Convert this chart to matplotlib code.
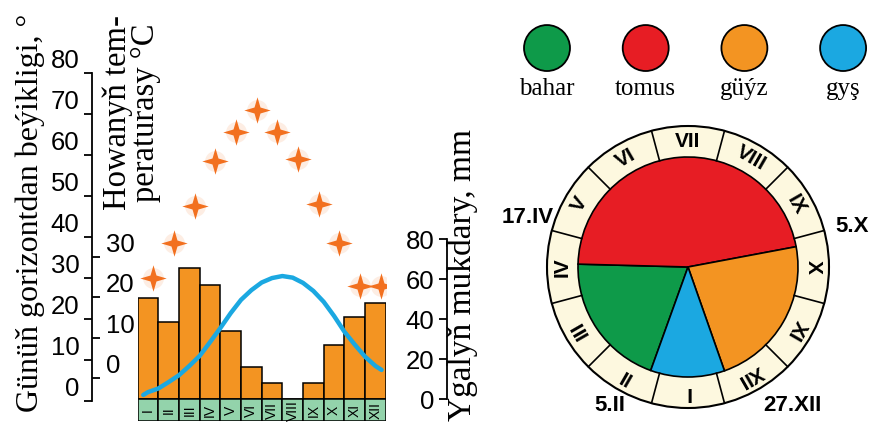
import numpy as np
import matplotlib
matplotlib.use('Agg')
import matplotlib.pyplot as plt
from matplotlib.path import Path
from matplotlib.patches import Wedge, Circle

# figure size in pixels
W, H = 881, 425

# climate data
months = ['I', 'II', 'III', 'IV', 'V', 'VI', 'VII', 'VIII', 'IX', 'X', 'XI', 'XII']
precip_mm = [50.5, 38.5, 65.5, 57, 34, 16, 8, 0, 8, 27, 41, 48]
sun_height = [30, 38.5, 47.5, 58.5, 65.5, 71, 65.5, 59, 48, 38.5, 28, 28]
temp_month = [-0.23, 0, 0.5, 1, 1.5, 2, 2.5, 3, 3.5, 4, 4.5, 5, 5.5, 6, 6.5,
              7, 7.5, 8, 8.5, 9, 9.5, 10, 10.5, 11, 11.3]
temp_c = [-4.2, -3.5, -2.6, -1.0, 0.7, 3.0, 5.5, 8.9, 12.4, 16.1, 19.4, 21.8,
          23.7, 24.8, 25.3, 24.9, 23.6, 21.6, 18.9, 15.4, 11.5, 8.3, 5.3, 3.0, 2.0]

# seasons
seasons = ['bahar', 'tomus', 'güýz', 'gyş']
season_colors = ['#0e9a49', '#e71d24', '#f39422', '#1ba8e1']
season_start = [(5, 2), (17, 4), (5, 10), (27, 12)]  # (day, month)
season_labels = ['5.II', '17.IV', '5.X', '27.XII']
days_in_month = [31, 28, 31, 30, 31, 30, 31, 31, 30, 31, 30, 31]

serif = ['Liberation Serif', 'DejaVu Serif']
sans = ['Liberation Sans', 'DejaVu Sans']
orange = '#f39422'
star_col = '#f2701f'
strip_col = '#93d3ab'
cream = '#fdf8df'


def box(x0, x1, y_top, y_bot):
    # pixel box -> figure fraction
    return [x0 / W, 1 - y_bot / H, max(x1 - x0, 0.01) / W, (y_bot - y_top) / H]


def ylim_for(zero_px, px_per_unit, top=40, bot=421):
    return (zero_px - bot) / px_per_unit, (zero_px - top) / px_per_unit


fig = plt.figure(figsize=(W / 100, H / 100), dpi=100)
fig.patch.set_facecolor('white')

x = np.arange(len(months))
data_box = box(137.7, 385.7, 40, 421)

# precipitation bars + month strip
ax_bar = fig.add_axes(data_box)
lo, hi = ylim_for(399.3, 2.0)
ax_bar.set_ylim(lo, hi)
ax_bar.set_xlim(-0.5, 11.5)
ax_bar.bar(x, precip_mm, width=1, color=orange, edgecolor='black', lw=1.1)
ax_bar.bar(x, -lo, bottom=lo, width=1, color=strip_col, edgecolor='black', lw=1.1)
for i, m in enumerate(months):
    ax_bar.text(i, lo / 2, m, rotation=90, ha='center', va='center',
                fontsize=10, family=sans)
ax_bar.axis('off')

# temperature curve
ax_t = fig.add_axes(data_box)
ax_t.set_ylim(*ylim_for(378, 4.03))
ax_t.set_xlim(-0.5, 11.5)
ax_t.plot(temp_month, temp_c, color='#1ba8e1', lw=3.2, solid_capstyle='round')
ax_t.axis('off')

# sun height stars
ang = np.arange(9) * np.pi / 4 + np.pi / 2
rad = np.where(np.arange(9) % 2 == 0, 1.0, 0.32)
star = Path(np.column_stack([rad * np.cos(ang), rad * np.sin(ang)]), closed=True)
ax_s = fig.add_axes(data_box)
ax_s.set_ylim(*ylim_for(401, 4.1))
ax_s.set_xlim(-0.5, 11.5)
ax_s.plot(x + 0.25, sun_height, ls='none', marker='o', ms=15,
          mfc=star_col, mec='none', alpha=0.12)
ax_s.plot(x + 0.25, sun_height, ls='none', marker=star, ms=19,
          mfc=star_col, mec='none')
ax_s.axis('off')

# scale: sun height (left ticks) on line at x=92
ax_sun = fig.add_axes(box(92, 92, 73, 401))
ax_sun.set_ylim(0, 80)
ax_sun.set_yticks(range(0, 81, 10))
ax_sun.set_xticks([])
for s in ['top', 'right', 'bottom']:
    ax_sun.spines[s].set_visible(False)
ax_sun.spines['left'].set_linewidth(1.3)
ax_sun.tick_params(axis='y', length=6, width=1.3, pad=3, labelsize=18.5)
for t in ax_sun.get_yticklabels():
    t.set_family(sans)
    t.set_verticalalignment('bottom')
ax_sun.patch.set_visible(False)

# scale: temperature (right ticks) on the same line
ax_tc = fig.add_axes(box(92, 92, 257, 378))
ax_tc.set_ylim(0, 30)
ax_tc.set_yticks(range(0, 31, 10))
ax_tc.set_xticks([])
ax_tc.yaxis.tick_right()
for s in ['top', 'left', 'bottom', 'right']:
    ax_tc.spines[s].set_visible(False)
ax_tc.tick_params(axis='y', length=6, width=1.3, pad=4, labelsize=18.5)
for t in ax_tc.get_yticklabels():
    t.set_family(sans)
    t.set_verticalalignment('bottom')
ax_tc.patch.set_visible(False)

# scale: precipitation
ax_pr = fig.add_axes(box(447, 447, 239.3, 399.3))
ax_pr.set_ylim(0, 80)
ax_pr.set_yticks(range(0, 81, 20))
ax_pr.set_xticks([])
for s in ['top', 'right', 'bottom']:
    ax_pr.spines[s].set_visible(False)
ax_pr.spines['left'].set_linewidth(1.3)
ax_pr.tick_params(axis='y', length=6, width=1.3, pad=3, labelsize=18.5)
for t in ax_pr.get_yticklabels():
    t.set_family(sans)
ax_pr.patch.set_visible(False)

# axis titles
fig.text(30 / W, 1 - 213 / H, 'Günüň gorizontdan beýikligi, °', rotation=90,
         ha='center', va='center', fontsize=23, family=serif)
fig.text(132 / W, 1 - 113 / H, 'Howanyň tem-\nperaturasy °C', rotation=90,
         ha='center', va='center', fontsize=23.5, family=serif,
         multialignment='center', linespacing=0.9)
fig.text(463 / W, 1 - 275 / H, 'Ygalyň mukdary, mm', rotation=90,
         ha='center', va='center', fontsize=24, family=serif)

# season clock
cx, cy, R = 688, 267, 141
ax_c = fig.add_axes(box(490, 881, 0, 425))
ax_c.set_xlim((490 - cx) / R, (881 - cx) / R)
ax_c.set_ylim((cy - 425) / R, cy / R)
ax_c.axis('off')

r_in = 110 / R
ax_c.add_patch(Circle((0, 0), 1, fc=cream, ec='black', lw=1.5))

for k, m in enumerate(months):
    a = 270 - 30 * k
    e = np.deg2rad(a + 15)
    ax_c.plot([r_in * np.cos(e), np.cos(e)], [r_in * np.sin(e), np.sin(e)],
              color='black', lw=1.2)
    ar = np.deg2rad(a)
    rm = (1 + r_in) / 2
    ax_c.text(rm * np.cos(ar), rm * np.sin(ar), m, rotation=a - 90,
              rotation_mode='anchor', ha='center', va='center',
              fontsize=15, fontweight='bold', family=sans)


def date_angle(day, month):
    p = (month - 1) + (day - 0.5) / days_in_month[month - 1]
    return 270 - 30 * (p - 0.5)


angles = [date_angle(d, m) for d, m in season_start]
for i in range(4):
    a0 = angles[i]
    a1 = angles[(i + 1) % 4]
    if a0 < a1:
        a0 += 360
    ax_c.add_patch(Wedge((0, 0), r_in, a1, a0, fc=season_colors[i],
                         ec='black', lw=1.2))

label_xy = [(-0.553, -0.979), (-1.135, 0.348), (1.163, 0.284), (0.738, -0.979)]
for lab, (lx, ly) in zip(season_labels, label_xy):
    ax_c.text(lx, ly, lab, ha='center', va='center', fontsize=16,
              fontweight='bold', family=sans)

# season legend
leg_x0, leg_dx, leg_y = -1.0, 0.70, 1.553
for i, (name, col) in enumerate(zip(seasons, season_colors)):
    lx = leg_x0 + i * leg_dx
    ax_c.add_patch(Circle((lx, leg_y), 0.163, fc=col, ec='black', lw=1.3))
    ax_c.text(lx, leg_y - 0.29, name, ha='center', va='center',
              fontsize=18, family=serif)

fig.savefig('out.png', dpi=100)
